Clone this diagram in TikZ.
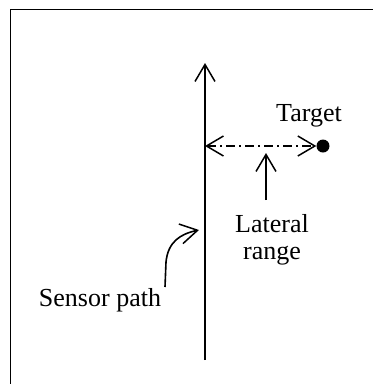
\documentclass[tikz,border=0pt]{standalone}
\usepackage{fontspec}
\setmainfont{Liberation Serif}
\usetikzlibrary{arrows.meta}
\begin{document}
\begin{tikzpicture}[x=1pt,y=-1pt,
  lbl/.style={font=\fontsize{26}{30}\selectfont, inner sep=0pt, anchor=base},
  conn/.style={line width=1.6pt},
  barb/.style={-{Straight Barb[length=17pt,width=20pt,line width=1.5pt]}}]
\useasboundingbox (0,0) rectangle (373,384);
\clip (0,0) rectangle (373,384);
\draw[line width=1.5pt] (10.5,395) -- (10.5,9.5) -- (385,9.5);
% sensor path
\coordinate (pb) at (205,360);
\coordinate (ptop) at (205,63);
\draw[conn,barb] (pb) -- (ptop);
% target
\node[circle, fill=black, inner sep=0pt, minimum size=13pt] (tgt) at (323,146) {};
\node[lbl] (tl) at (309,121) {Target};
\coordinate (lr) at (205,146);
\draw[line width=1.3pt, dash pattern=on 9pt off 4pt on 2pt off 4pt,
  {Straight Barb[length=17pt,width=20pt,line width=1.5pt]}-{Straight Barb[length=17pt,width=20pt,line width=1.5pt]}] (lr) -- (tgt.west);
% lateral range
\node[lbl] (lat1) at (272,232) {Lateral};
\node[lbl] (lat2) at (272,259) {range};
\coordinate (ua) at (266,200);
\coordinate (ub) at (266,153);
\draw[conn,barb] (ua) -- (ub);
% sensor path label
\node[lbl] (sp) at (100,306) {Sensor path};
\coordinate (ca) at (165,287);
\coordinate (cb) at (199,230);
\draw[conn,barb] (ca) -- (166,262) .. controls (168,242) and (180,234) .. (cb);
\end{tikzpicture}
\end{document}
